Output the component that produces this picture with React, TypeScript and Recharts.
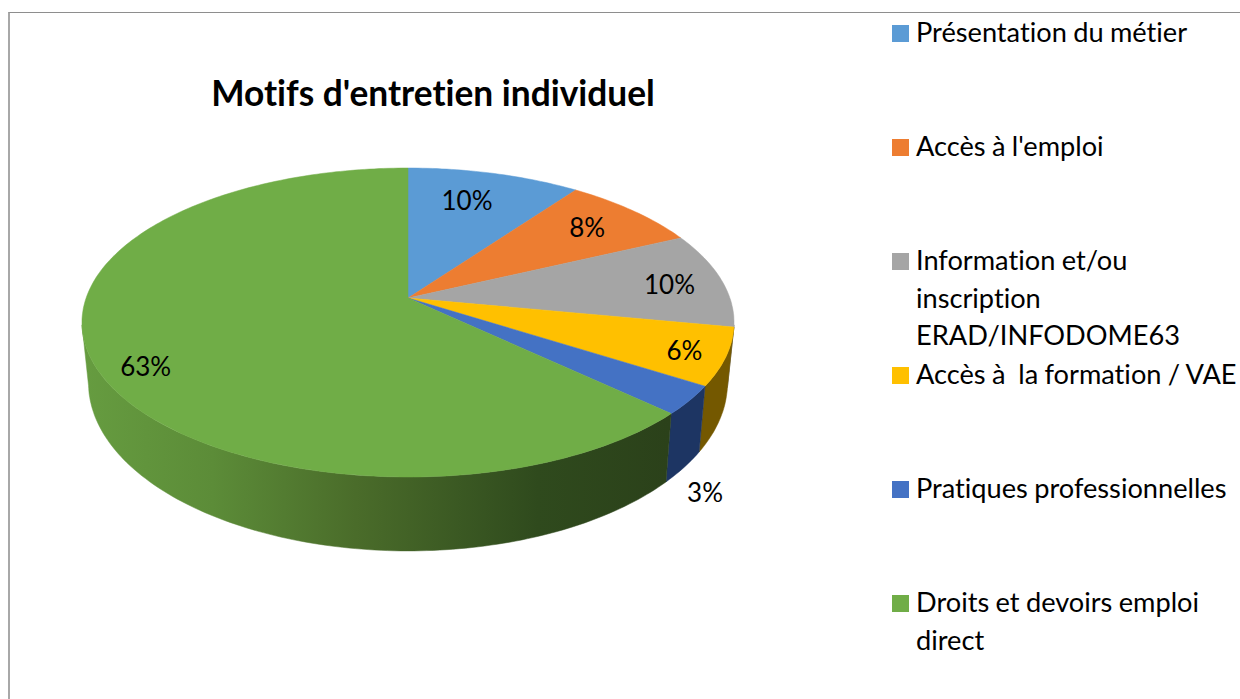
import React from 'react'
import { PieChart, Pie, Legend } from 'recharts'

const MOTIFS = [
  'Présentation du métier',
  "Accès à l'emploi",
  'Information et/ou\ninscription\nERAD/INFODOME63',
  'Accès à  la formation / VAE',
  'Pratiques professionnelles',
  'Droits et devoirs emploi\ndirect',
]
const SHARES = [10, 8, 10, 6, 3, 63]
const TOP_COLORS = ['#5b9bd5', '#ed7d31', '#a5a5a5', '#ffc000', '#4472c4', '#70ad47']
const WALL_COLORS = ['#2f5276', '#8a4a1c', '#6a6a6a', '#745800', '#1d3563', 'url(#greenWall)']

const pieData = MOTIFS.map((name, i) => ({ name, value: SHARES[i], fill: TOP_COLORS[i] }))
const wallData = MOTIFS.map((name, i) => ({ name, value: SHARES[i], fill: WALL_COLORS[i] }))

// label nudges from the r=0.7 point of each slice
const LABEL_DX = [-4, 17, 41, 58, 106, -46]
const LABEL_DY = [-7, -8, -1, 12, 125, 24]

const FONT = 'Lato, "Open Sans", sans-serif'

// the pie is tilted with perspective, so the circle goes through a homography
const TILT = 0.1586
const SCALE_X = 321.9 / 326
const SCALE_Y = 150.6 / 326

const project = (cx: number, cy: number, r: number, clock: number, kx = SCALE_X, ky = SCALE_Y) => {
  const rad = (clock * Math.PI) / 180
  const u = Math.sin(rad) * (r / 326)
  const v = Math.cos(rad) * (r / 326)
  const d = 1 + TILT * v
  return [cx + (326 * kx * u) / d, cy - (326 * ky * v) / d]
}

const arcPoints = (from: number, to: number, pt: (clock: number) => number[]) => {
  const out: number[][] = []
  const steps = Math.max(2, Math.ceil(Math.abs(to - from)))
  for (let i = 0; i <= steps; i++) out.push(pt(from + ((to - from) * i) / steps))
  return out
}

const toPath = (pts: number[][]) =>
  pts.map((p, i) => `${i ? 'L' : 'M'}${p[0].toFixed(1)} ${p[1].toFixed(1)}`).join(' ') + ' Z'

const TopSlice = (props: any) => {
  const { cx, cy, outerRadius, startAngle, endAngle, fill } = props
  const pts = arcPoints(90 - startAngle, 90 - endAngle, (c) => project(cx, cy, outerRadius, c))
  return <path d={toPath([[cx, cy], ...pts])} fill={fill} stroke={fill} strokeWidth={0.5} />
}

const WallSlice = (props: any) => {
  const { cx, cy, outerRadius, startAngle, endAngle, fill } = props
  const from = Math.max(90 - startAngle, 100)
  const to = Math.min(90 - endAngle, 260)
  const defs = (
    <defs>
      <linearGradient id="greenWall" gradientUnits="userSpaceOnUse" x1={82} y1={0} x2={734} y2={0}>
        <stop offset="0" stopColor="#669c40" />
        <stop offset="0.2" stopColor="#5c8c38" />
        <stop offset="0.42" stopColor="#4a6c2a" />
        <stop offset="0.7" stopColor="#2f4a1d" />
        <stop offset="0.9" stopColor="#2b411a" />
      </linearGradient>
    </defs>
  )
  if (to <= from) return <g>{defs}</g>
  const upper = arcPoints(from, to, (c) => project(cx, cy, outerRadius, c))
  const lower = arcPoints(to, from, (c) => project(cx, 356, outerRadius, c, SCALE_X * 0.98, 164 / 326))
  return (
    <g>
      {defs}
      <path d={toPath([...upper, ...lower])} fill={fill} stroke={fill} strokeWidth={0.5} />
    </g>
  )
}

const renderPercent = (props: any) => {
  const { cx, cy, midAngle, percent, index } = props
  const [x, y] = project(cx, cy, 326 * 0.7, 90 - midAngle)
  return (
    <text
      x={x + LABEL_DX[index]}
      y={y + LABEL_DY[index]}
      textAnchor="middle"
      dominantBaseline="central"
      fontFamily={FONT}
      fontSize={26}
      fill="#000"
    >
      {Math.round(percent * 100)}%
    </text>
  )
}

const renderLegend = (props: any) => (
  <div style={{ position: 'relative', width: 348, height: 685 }}>
    {(props.payload || [])
      .filter((entry: any) => entry.type !== 'none')
      .map((entry: any, i: number) => (
        <div key={i} style={{ position: 'absolute', left: 0, top: i * 114 }}>
          <span
            style={{
              position: 'absolute',
              left: 0,
              top: 11,
              width: 17,
              height: 17,
              background: TOP_COLORS[i],
            }}
          />
          <div
            style={{
              position: 'absolute',
              left: 24,
              top: -1,
              width: 324,
              fontFamily: FONT,
              fontSize: 27.2,
              lineHeight: '37.5px',
              wordSpacing: -0.6,
              fontVariantLigatures: 'none',
              color: '#000',
              whiteSpace: 'pre',
            }}
          >
            {entry.value}
          </div>
        </div>
      ))}
  </div>
)

export default function App() {
  return (
    <div
      style={{
        position: 'absolute',
        left: 0,
        top: 0,
        width: 1240,
        height: 699,
        overflow: 'hidden',
        background: '#fff',
      }}
    >
      <div
        style={{
          position: 'absolute',
          left: 8,
          top: 12,
          width: 1232,
          height: 687,
          borderTop: '1px solid #8e8e8e',
          borderLeft: '2px solid #a8a8a8',
        }}
      />
      <div
        style={{
          position: 'absolute',
          left: 0,
          top: 70,
          width: 866,
          textAlign: 'center',
          fontFamily: FONT,
          fontWeight: 700,
          fontSize: 35.3,
          lineHeight: '46px',
          fontVariantLigatures: 'none',
          color: '#000',
        }}
      >
        Motifs d'entretien individuel
      </div>
      <PieChart width={1240} height={699} margin={{ top: 0, right: 0, bottom: 0, left: 0 }}>
        <Pie
          data={wallData}
          dataKey="value"
          cx={408}
          cy={298}
          outerRadius={326}
          startAngle={90}
          endAngle={-270}
          legendType="none"
          shape={WallSlice}
          stroke="none"
          isAnimationActive={false}
        />
        <Pie
          data={pieData}
          dataKey="value"
          nameKey="name"
          cx={408}
          cy={298}
          outerRadius={326}
          startAngle={90}
          endAngle={-270}
          shape={TopSlice}
          label={renderPercent}
          labelLine={false}
          stroke="none"
          isAnimationActive={false}
        />
        <Legend
          content={renderLegend}
          itemSorter={null}
          wrapperStyle={{ position: 'absolute', left: 892, top: 14, width: 348, height: 685 }}
        />
      </PieChart>
    </div>
  )
}
